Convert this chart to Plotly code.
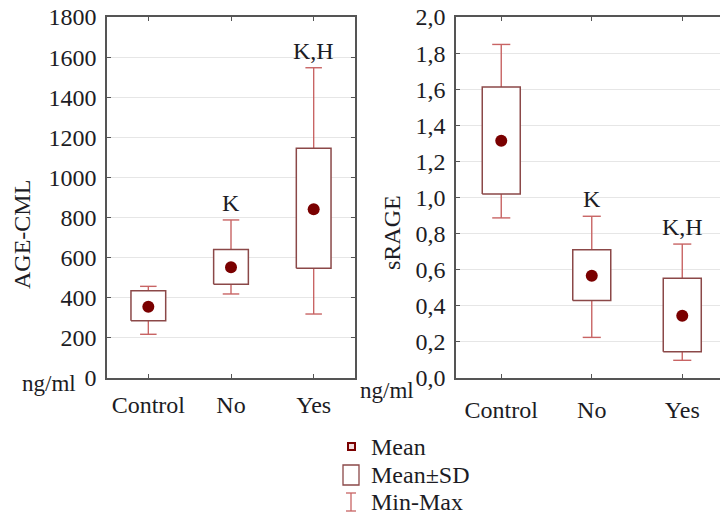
import plotly.graph_objects as go

# ---------------- data ----------------
categories = ["Control", "No", "Yes"]

age_mean = [355, 552, 841]
age_sd_low = [285, 467, 547]
age_sd_high = [435, 641, 1145]
age_min = [218, 419, 319]
age_max = [457, 788, 1547]
age_sig = ["", "K", "K,H"]

srage_mean = [1.315, 0.566, 0.345]
srage_sd_low = [1.02, 0.429, 0.145]
srage_sd_high = [1.612, 0.711, 0.553]
srage_min = [0.887, 0.225, 0.098]
srage_max = [1.848, 0.896, 0.742]
srage_sig = ["", "K", "K,H"]

age_tickvals = [0, 200, 400, 600, 800, 1000, 1200, 1400, 1600, 1800]
age_ticktext = ["0", "200", "400", "600", "800", "1000", "1200", "1400", "1600", "1800"]
srage_tickvals = [0.0, 0.2, 0.4, 0.6, 0.8, 1.0, 1.2, 1.4, 1.6, 1.8, 2.0]
srage_ticktext = ["0,0", "0,2", "0,4", "0,6", "0,8", "1,0", "1,2", "1,4", "1,6", "1,8", "2,0"]

legend_labels = ["Mean", "Mean±SD", "Min-Max"]

# ---------------- style ----------------
FONT = "'Liberation Serif', serif"
TXT = "#1c1c24"
BOX_C = "#8b4848"
WHISK_C = "#c86464"
MEAN_C = "#7a0000"
GRID_C = "#e6e6e6"
AXIS_C = "#555555"
BW = 0.21
CW = 0.1

W, H = 720, 515


def px(x):
    return x / W


def py(y):
    return 1 - y / H


fig = go.Figure()


def add_panel(xa, ya, means, lo, hi, mn, mx, sig):
    idx = list(range(len(categories)))
    wx, wy = [], []
    for i in idx:
        wx += [i, i, None, i - CW, i + CW, None, i - CW, i + CW, None]
        wy += [mn[i], mx[i], None, mn[i], mn[i], None, mx[i], mx[i], None]
    fig.add_trace(go.Scatter(x=wx, y=wy, mode="lines", xaxis=xa, yaxis=ya,
                             line=dict(color=WHISK_C, width=1.4),
                             showlegend=False, hoverinfo="skip"))
    for i in idx:
        fig.add_trace(go.Scatter(
            x=[i - BW, i + BW, i + BW, i - BW, i - BW],
            y=[lo[i], lo[i], hi[i], hi[i], lo[i]],
            mode="lines", fill="toself", fillcolor="white",
            line=dict(color=BOX_C, width=1.5), xaxis=xa, yaxis=ya,
            showlegend=False, hoverinfo="skip"))
    fig.add_trace(go.Scatter(x=idx, y=means, mode="markers", xaxis=xa, yaxis=ya,
                             marker=dict(color=MEAN_C, size=12, symbol="circle"),
                             showlegend=False))
    for i in idx:
        if sig[i]:
            fig.add_annotation(x=i, y=mx[i], xref=xa, yref=ya, text=sig[i],
                               showarrow=False, yanchor="bottom", yshift=2,
                               font=dict(family=FONT, size=24, color=TXT))


add_panel("x", "y", age_mean, age_sd_low, age_sd_high, age_min, age_max, age_sig)
add_panel("x2", "y2", srage_mean, srage_sd_low, srage_sd_high, srage_min, srage_max, srage_sig)

YDOM = [py(378), py(17)]
TICKFONT = dict(family=FONT, size=24, color=TXT)

common_x = dict(tickmode="array", tickvals=[0, 1, 2], ticktext=categories,
                showgrid=False, zeroline=False, showline=True, linecolor=AXIS_C,
                linewidth=1.5, ticks="inside", ticklen=4, tickcolor=AXIS_C,
                tickfont=TICKFONT)
common_y = dict(tickmode="array", showgrid=True, gridcolor=GRID_C, gridwidth=1.2,
                zeroline=False, showline=True, linecolor=AXIS_C, linewidth=1.5,
                ticks="inside", ticklen=4, tickcolor=AXIS_C,
                tickfont=TICKFONT)

fig.update_layout(
    width=W, height=H, margin=dict(l=0, r=0, t=0, b=0, autoexpand=False),
    paper_bgcolor="white", plot_bgcolor="white",
    font=dict(family=FONT, color=TXT, size=24),
    xaxis=dict(common_x, domain=[px(107), px(355)], range=[-0.5, 2.5],
               anchor="y", mirror="ticks", ticklabelstandoff=4),
    yaxis=dict(common_y, domain=YDOM, range=[0, 1800], anchor="x",
               tickvals=age_tickvals, ticktext=age_ticktext, mirror="ticks",
               ticklabelstandoff=4),
    xaxis2=dict(common_x, domain=[px(456), px(720)], range=[-0.5, 2.417],
                anchor="y2", mirror="ticks", ticklabelstandoff=9),
    yaxis2=dict(common_y, domain=YDOM, range=[0, 2.0], anchor="x2",
                tickvals=srage_tickvals, ticktext=srage_ticktext, mirror=False,
                ticklabelstandoff=4),
)


def txt(x, y, text, size=24, angle=0, xanchor="center"):
    fig.add_annotation(x=px(x), y=py(y), xref="paper", yref="paper", text=text,
                       textangle=angle, showarrow=False, xanchor=xanchor,
                       yanchor="middle", font=dict(family=FONT, size=size, color=TXT))


txt(22, 235, "AGE-CML", angle=-90)
txt(392, 232, "sRAGE", angle=-90)
txt(49, 383, "ng/ml", size=23)
txt(387, 390, "ng/ml", size=23)

legend_y = [447, 475, 502]
for lab, ly in zip(legend_labels, legend_y):
    txt(369, ly, lab, xanchor="left")

fig.add_shape(type="rect", xref="paper", yref="paper", x0=px(348), x1=px(355),
              y0=py(450), y1=py(443), line=dict(color=MEAN_C, width=2), fillcolor="#f3dede")
fig.add_shape(type="rect", xref="paper", yref="paper", x0=px(343), x1=px(359),
              y0=py(485), y1=py(465), line=dict(color=BOX_C, width=1.3), fillcolor="white")
fig.add_shape(type="line", xref="paper", yref="paper", x0=px(351), x1=px(351),
              y0=py(511), y1=py(493), line=dict(color=WHISK_C, width=1.3))
fig.add_shape(type="line", xref="paper", yref="paper", x0=px(346), x1=px(356),
              y0=py(493), y1=py(493), line=dict(color=WHISK_C, width=1.3))
fig.add_shape(type="line", xref="paper", yref="paper", x0=px(346), x1=px(356),
              y0=py(511), y1=py(511), line=dict(color=WHISK_C, width=1.3))

fig.write_html("out.html", config={"displayModeBar": False},
               post_script="document.body.style.margin='0';")
